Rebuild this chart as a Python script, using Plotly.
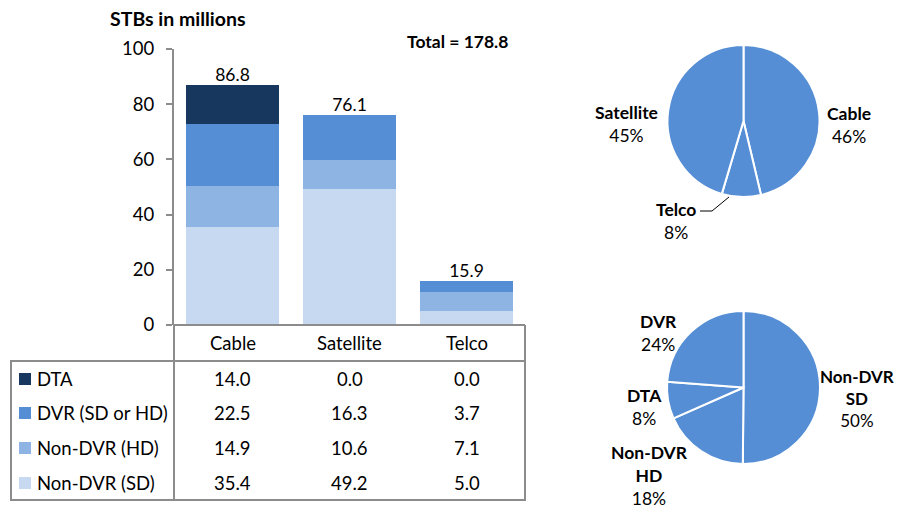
import plotly.graph_objects as go

W, H = 903, 508

providers = ["Cable", "Satellite", "Telco"]
dta = [14.0, 0.0, 0.0]
dvr = [22.5, 16.3, 3.7]
non_dvr_hd = [14.9, 10.6, 7.1]
non_dvr_sd = [35.4, 49.2, 5.0]
totals = [86.8, 76.1, 15.9]
grand_total = 178.8

# share by provider (%), clockwise from 12 o'clock
share_labels = ["Cable", "Telco", "Satellite"]
share_values = [46.3, 8.3, 45.4]

type_labels = ["Non-DVR<br>SD", "Non-DVR<br>HD", "DTA", "DVR"]

DARK = "#17375E"
MID = "#558ED5"
LIGHT = "#8EB4E3"
PALE = "#C6D9F1"
GRID = "#8C8C8C"
FONT = "Lato"

# the page body adds an 8px offset, so positions are given in window pixels
OFF = 8


def px_x(v):
    return (v - OFF) / W


def px_y(v):
    return 1 - (v - OFF) / H


fig = go.Figure()

stack = [("Non-DVR (SD)", non_dvr_sd, PALE), ("Non-DVR (HD)", non_dvr_hd, LIGHT),
         ("DVR (SD or HD)", dvr, MID), ("DTA", dta, DARK)]
for name, vals, col in stack:
    fig.add_trace(go.Bar(x=providers, y=vals, name=name, marker_color=col,
                         marker_line_width=0, showlegend=False))

fig.add_trace(go.Scatter(x=providers, y=totals, mode="text",
                         text=[f"{t:.1f}" for t in totals], textposition="top center",
                         textfont=dict(size=17.5, color="black", family=FONT),
                         showlegend=False, cliponaxis=False))

fig.add_trace(go.Pie(labels=share_labels, values=share_values, sort=False, direction="clockwise",
                     rotation=0, textinfo="none", hoverinfo="label+percent",
                     marker=dict(colors=[MID] * 3, line=dict(color="white", width=2)),
                     domain=dict(x=[px_x(667), px_x(820)], y=[px_y(197), px_y(45)]),
                     showlegend=False))

type_vals = [sum(non_dvr_sd), sum(non_dvr_hd), sum(dta), sum(dvr)]
fig.add_trace(go.Pie(labels=type_labels, values=type_vals, sort=False, direction="clockwise",
                     rotation=0, textinfo="none", hoverinfo="label+percent",
                     marker=dict(colors=[MID] * 4, line=dict(color="white", width=2)),
                     domain=dict(x=[px_x(667), px_x(820)], y=[px_y(464), px_y(311)]),
                     showlegend=False))

shapes = []
ann = []

# data table grid
line = dict(color=GRID, width=2)
shapes.append(dict(type="rect", xref="paper", yref="paper", x0=px_x(11), x1=px_x(525),
                   y0=px_y(500), y1=px_y(361), line=line))
shapes.append(dict(type="line", xref="paper", yref="paper", x0=px_x(174), x1=px_x(525),
                   y0=px_y(325), y1=px_y(325), line=line))
shapes.append(dict(type="line", xref="paper", yref="paper", x0=px_x(525), x1=px_x(525),
                   y0=px_y(361), y1=px_y(325), line=line))
shapes.append(dict(type="line", xref="paper", yref="paper", x0=px_x(174), x1=px_x(174),
                   y0=px_y(500), y1=px_y(325), line=line))

TXT = dict(size=18.5, family=FONT, color="black")

for p in providers:
    ann.append(dict(x=p, xref="x", y=px_y(343), yref="paper", text=p, showarrow=False,
                    xanchor="center", yanchor="middle", font=TXT))

rows = [("DTA", dta, DARK), ("DVR (SD or HD)", dvr, MID),
        ("Non-DVR (HD)", non_dvr_hd, LIGHT), ("Non-DVR (SD)", non_dvr_sd, PALE)]
row_y = [379, 413, 448, 483]
for (name, vals, col), yy in zip(rows, row_y):
    shapes.append(dict(type="rect", xref="paper", yref="paper", x0=px_x(19), x1=px_x(31),
                       y0=px_y(yy + 6), y1=px_y(yy - 6), fillcolor=col, line_width=0))
    ann.append(dict(x=px_x(35), xref="paper", y=px_y(yy), yref="paper", text=name,
                    showarrow=False, xanchor="left", yanchor="middle", font=TXT))
    for p, v in zip(providers, vals):
        ann.append(dict(x=p, xref="x", y=px_y(yy), yref="paper", text=f"{v:.1f}",
                        showarrow=False, xanchor="center", yanchor="middle", font=TXT))

ann.append(dict(x=px_x(108), y=px_y(19), xref="paper", yref="paper", xanchor="left",
                yanchor="middle", text="<b>STBs in millions</b>", showarrow=False,
                font=dict(size=19.5, family=FONT, color="black")))
ann.append(dict(x=px_x(457), y=px_y(42), xref="paper", yref="paper", xanchor="center",
                yanchor="middle", text=f"<b>Total = {grand_total:.1f}</b>", showarrow=False,
                font=dict(size=17.5, family=FONT, color="black")))


def pie_label(name, pct, cx, cy, size=17.5):
    ann.append(dict(x=px_x(cx), y=px_y(cy), xref="paper", yref="paper",
                    xanchor="center", yanchor="middle",
                    text=f"<b>{name}</b><br>{pct:.0f}%", showarrow=False,
                    font=dict(size=size, family=FONT, color="black")))


tot_s = sum(share_values)
for lab, v, cx, cy in zip(share_labels, share_values, [849, 676, 626], [125, 221, 124]):
    pie_label(lab, v / tot_s * 100, cx, cy)
shapes.append(dict(type="path", xref="paper", yref="paper",
                   path=f"M {px_x(700)},{px_y(211)} L {px_x(712)},{px_y(211)} L {px_x(729)},{px_y(197)}",
                   line=dict(color="black", width=1)))

tot_t = sum(type_vals)
for lab, v, cx, cy, sz in zip(type_labels, type_vals, [857, 649, 644, 658], [398, 475, 407, 333],
                              [17, 17.5, 17.5, 17.5]):
    pie_label(lab, v / tot_t * 100, cx, cy, sz)

fig.update_layout(
    width=W, height=H,
    margin=dict(l=0, r=0, t=0, b=0, autoexpand=False),
    paper_bgcolor="white", plot_bgcolor="white",
    barmode="stack", bargap=0.2,
    font=dict(family=FONT, color="black"),
    xaxis=dict(domain=[px_x(174), px_x(525)], showticklabels=False, showline=False,
               showgrid=False, zeroline=False, ticks="", automargin=False),
    yaxis=dict(domain=[px_y(325), px_y(49)], range=[0, 100], dtick=20, automargin=False,
               showline=True, linecolor=GRID, linewidth=2, ticks="outside", ticklen=6,
               tickcolor=GRID, tickwidth=2, showgrid=False, zeroline=False,
               ticklabelstandoff=8, tickfont=dict(size=18.5, family=FONT, color="black")),
    shapes=shapes,
    annotations=ann,
)

fig.write_html("out.html")
